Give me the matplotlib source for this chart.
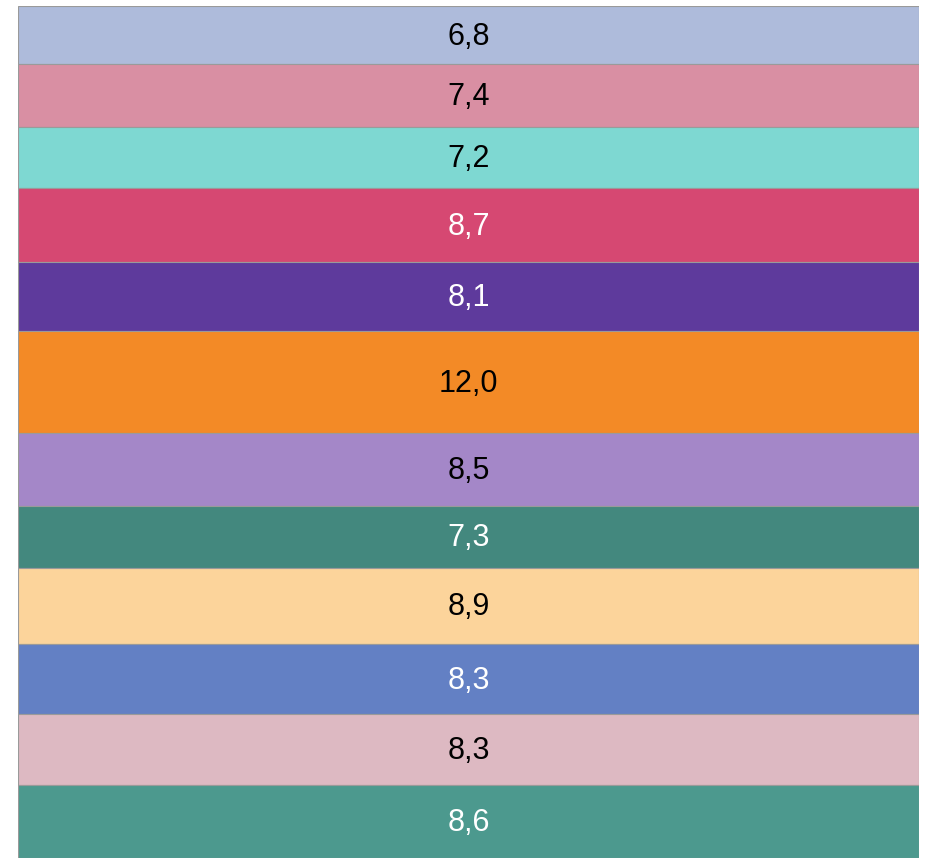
import matplotlib.pyplot as plt
import numpy as np

values = [6.8, 7.4, 7.2, 8.7, 8.1, 12.0, 8.5, 7.3, 8.9, 8.3, 8.3, 8.6]
labels = ["6,8", "7,4", "7,2", "8,7", "8,1", "12,0", "8,5", "7,3", "8,9", "8,3", "8,3", "8,6"]
colors = ["#aebbdb", "#d98fa3", "#7ed8d2", "#d64872", "#5e3a9c", "#f38a26",
          "#a487c8", "#43887e", "#fcd49b", "#6380c4", "#ddb9c2", "#4c998e"]
text_colors = ["black", "black", "black", "white", "white", "black",
               "black", "white", "black", "white", "black", "white"]

plt.rcParams['font.family'] = ['Liberation Sans', 'DejaVu Sans']

fig = plt.figure(figsize=(9.28, 8.58), dpi=100)
ax = fig.add_axes([18 / 928, 0, (919 - 18) / 928, (858 - 6) / 858])

bottoms = np.concatenate([[0], np.cumsum(values)[:-1]])
ax.bar(0, values, bottom=bottoms, width=1, color=colors,
       edgecolor="#9a9a9a", linewidth=0.8)

for b, v, lab, tc in zip(bottoms, values, labels, text_colors):
    ax.text(0, b + v / 2 + 0.2, lab, ha="center", va="center", fontsize=22, color=tc)

ax.set_xlim(-0.5, 0.5)
ax.set_ylim(sum(values), 0)
ax.axis("off")

fig.savefig("out.png", dpi=100)
